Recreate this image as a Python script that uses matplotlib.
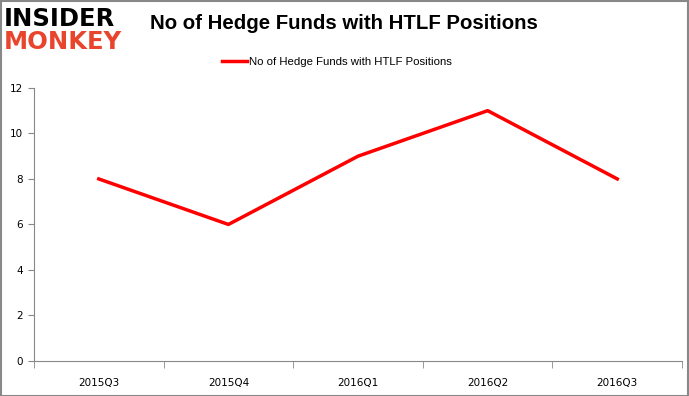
import numpy as np
import matplotlib.pyplot as plt

quarters = ['2015Q3', '2015Q4', '2016Q1', '2016Q2', '2016Q3']
funds = [8, 6, 9, 11, 8]
series_name = 'No of Hedge Funds with HTLF Positions'

fig = plt.figure(figsize=(6.89, 3.96), dpi=100)
ax = fig.add_axes([0.0493, 0.0884, 0.9407, 0.6896])

x = np.arange(len(quarters))
ax.plot(x, funds, color='#ff0000', linewidth=2.5, label=series_name)

ax.set_xlim(-0.5, len(quarters) - 0.5)
ax.set_ylim(0, 12)
ax.set_yticks(range(0, 13, 2))
ax.set_xticks(x)
ax.set_xticklabels(quarters)
ax.set_xticks(np.arange(-0.5, len(quarters), 1), minor=True)
ax.tick_params(axis='x', which='major', length=0, pad=12, labelsize=7.5)
ax.tick_params(axis='x', which='minor', length=5, color='#888888')
ax.tick_params(axis='y', length=4, color='#888888', labelsize=7.5, pad=4)
for s in ['top', 'right']:
    ax.spines[s].set_visible(False)
for s in ['left', 'bottom']:
    ax.spines[s].set_color('#888888')

leg = ax.legend(loc='center', bbox_to_anchor=(0.489, 0.843),
                bbox_transform=fig.transFigure, frameon=False,
                prop={'family': 'Liberation Sans', 'size': 8.2},
                handlelength=2.2, handletextpad=0.2)

fig.text(0.218, 0.94, 'No of Hedge Funds with HTLF Positions', fontsize=14.7,
         fontweight='bold', va='center', ha='left', family='Liberation Sans')
fig.text(0.006, 0.952, 'INSIDER', fontsize=17.5, fontweight='heavy', color='black',
         va='center', ha='left', family='DejaVu Sans')
fig.text(0.006, 0.895, 'MONKEY', fontsize=17.5, fontweight='heavy', color='#e8452c',
         va='center', ha='left', family='DejaVu Sans')

border = plt.Rectangle((0.001, 0.001), 0.997, 0.997, transform=fig.transFigure,
                       fill=False, edgecolor='#888888', linewidth=1.5)
fig.patches.append(border)

fig.savefig('out.png', dpi=100)
